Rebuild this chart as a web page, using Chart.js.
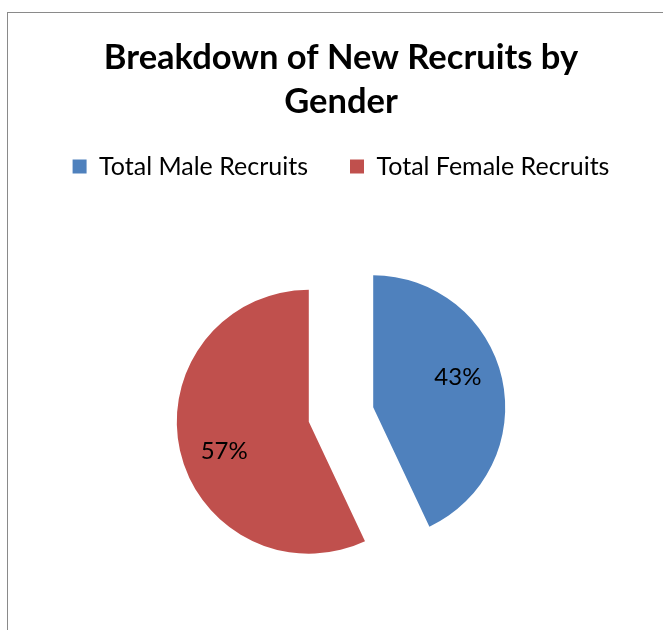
<!DOCTYPE html>
<html>
<head>
<meta charset="utf-8">
<script src="https://cdn.jsdelivr.net/npm/chart.js@4/dist/chart.umd.min.js"></script>
<style>
  html, body { margin: 0; padding: 0; background: #fff; overflow: hidden; }
  #wrap { position: relative; width: 663px; height: 640px; }
  #frame { position: absolute; left: 7px; top: 12px; right: -20px; bottom: -20px;
           border-left: 1px solid #8a8a8a; border-top: 1px solid #8a8a8a; pointer-events: none; }
  canvas { position: absolute; left: 0; top: 0; }
</style>
</head>
<body>
<div id="wrap">
  <canvas id="chart" width="663" height="640"></canvas>
  <div id="frame"></div>
</div>
<script>
// ---- data ----
const titleLines = ['Breakdown of New Recruits by', 'Gender'];
const categories = ['Total Male Recruits', 'Total Female Recruits'];
const shares = [43, 57];
const sliceColors = ['#4F81BD', '#C0504D'];

const FONT = "Lato, 'Open Sans', sans-serif";
const EXPLODE = 33;       // px each slice is pulled out
const LABEL_POS = 0.68;   // label distance as fraction of radius
const LABEL_TURN = -0.12; // small turn of label from slice bisector (rad)

// Draw slices pulled out along their bisector (Excel style exploded pie)
const explodePlugin = {
  id: 'explode',
  beforeDatasetDraw(chart, args) {
    const ctx = chart.ctx;
    args.meta.data.forEach(arc => {
      const mid = (arc.startAngle + arc.endAngle) / 2;
      ctx.save();
      ctx.translate(Math.cos(mid) * EXPLODE, Math.sin(mid) * EXPLODE);
      arc.draw(ctx);
      ctx.restore();
    });
    return false;
  },
  afterDatasetsDraw(chart) {
    const ctx = chart.ctx;
    const meta = chart.getDatasetMeta(0);
    const values = chart.data.datasets[0].data;
    const total = values.reduce((a, b) => a + b, 0);
    ctx.save();
    ctx.font = `24px ${FONT}`;
    ctx.fillStyle = '#000';
    ctx.textAlign = 'center';
    ctx.textBaseline = 'middle';
    meta.data.forEach((arc, i) => {
      const mid = (arc.startAngle + arc.endAngle) / 2;
      const cx = arc.x + Math.cos(mid) * EXPLODE;
      const cy = arc.y + Math.sin(mid) * EXPLODE;
      const a = mid + LABEL_TURN;
      const r = arc.outerRadius * LABEL_POS;
      const pct = Math.round(values[i] / total * 100) + '%';
      ctx.fillText(pct, cx + Math.cos(a) * r, cy + Math.sin(a) * r);
    });
    ctx.restore();
  }
};

const ctx = document.getElementById('chart').getContext('2d');
new Chart(ctx, {
  type: 'pie',
  data: {
    labels: categories,
    datasets: [{
      data: shares,
      backgroundColor: sliceColors,
      borderWidth: 0
    }]
  },
  options: {
    responsive: false,
    animation: false,
    radius: 132,
    layout: { padding: { left: 19, right: 0, top: 0, bottom: 0 } },
    plugins: {
      title: {
        display: true,
        text: titleLines,
        color: '#000',
        font: { family: FONT, size: 34.5, weight: 'bold', lineHeight: '44px' },
        padding: { top: 36, bottom: -12 }
      },
      legend: {
        display: true,
        position: 'top',
        labels: {
          color: '#000',
          boxWidth: 14,
          boxHeight: 14,
          padding: 42,
          font: { family: FONT, size: 25 }
        }
      },
      tooltip: { enabled: false }
    }
  },
  plugins: [explodePlugin]
});
</script>
</body>
</html>
